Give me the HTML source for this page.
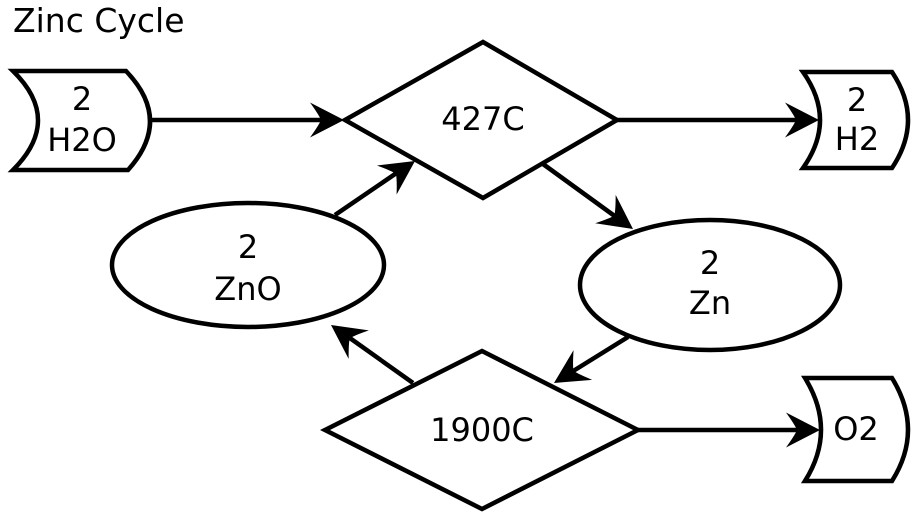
<!DOCTYPE html>
<html><head><meta charset="utf-8"><style>
html,body{margin:0;padding:0;background:#fff;}
svg{display:block;}
text{font-family:"DejaVu Sans","Liberation Sans",sans-serif;font-size:32px;fill:#000;}
</style></head><body>
<svg width="921" height="512" viewBox="0 0 921 512" xmlns="http://www.w3.org/2000/svg">
<defs>
<path id="ah" d="M0,0 L-34,-17.5 Q-25,-5 -23,0 Q-25,5 -34,17.5 Z" fill="#000"/>
</defs>
<text x="13" y="32" style="font-size:33px">Zinc Cycle</text>
<g fill="#fff" stroke="#000" stroke-width="4.5" stroke-linejoin="miter">
<path d="M13,71 L126,71 Q173,120 128,170 L13,170 Q63,120 13,71 Z"/>
<path d="M803,72 L892,72 Q924,120 892,168 L803,168 Q837,120 803,72 Z"/>
<path d="M805,378 L892,378 Q924,430 892,481 L805,481 Q837,430 805,378 Z"/>
<path d="M345,120 L483,42 L617,120 L483,198 Z"/>
<path d="M325,430 L482,351 L638,430 L482,509 Z"/>
<ellipse cx="248" cy="265" rx="136" ry="62"/>
<ellipse cx="710" cy="285" rx="130" ry="65"/>
</g>
<g stroke="#000" stroke-width="4.5" fill="none">
<line x1="150" y1="120" x2="325" y2="120"/>
<line x1="617" y1="120" x2="800" y2="120"/>
<line x1="638" y1="430" x2="800" y2="430"/>
<line x1="335" y1="215" x2="398" y2="172"/>
<line x1="543" y1="164" x2="616" y2="217"/>
<line x1="628" y1="337" x2="570" y2="373"/>
<line x1="413" y1="383" x2="347" y2="336"/>
</g>
<use href="#ah" transform="translate(344,120)"/>
<use href="#ah" transform="translate(819,120)"/>
<use href="#ah" transform="translate(820,430)"/>
<use href="#ah" transform="translate(415,161) rotate(-34)"/>
<use href="#ah" transform="translate(633,229) rotate(35.8)"/>
<use href="#ah" transform="translate(554,383) rotate(148)"/>
<use href="#ah" transform="translate(331,325) rotate(215.3)"/>
<g text-anchor="middle">
<text x="82" y="110">2</text>
<text x="82" y="151">H2O</text>
<text x="857" y="111">2</text>
<text x="857" y="150">H2</text>
<text x="856" y="440">O2</text>
<text x="483" y="130">427C</text>
<text x="482" y="441">1900C</text>
<text x="248" y="258">2</text>
<text x="248" y="300">ZnO</text>
<text x="710" y="274">2</text>
<text x="710" y="314">Zn</text>
</g>
</svg>
</body></html>
